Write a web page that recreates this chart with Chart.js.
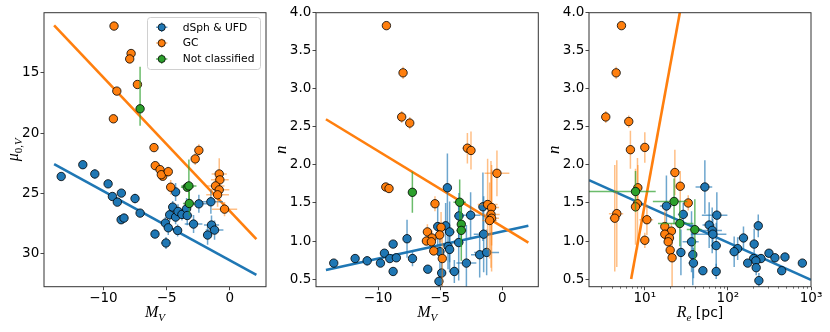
<!DOCTYPE html>
<html>
<head>
<meta charset="utf-8">
<title>Structural parameters of Milky Way satellites</title>
<script src="https://cdn.jsdelivr.net/npm/chart.js@4.4.1/dist/chart.umd.min.js"></script>
<style>
  body { margin: 0; background: #fff; width: 830px; height: 332px; overflow: hidden; position: relative; }
  canvas { position: absolute; top: 0; }
</style>
</head>
<body>
<canvas id="panelMu" style="left:0px" width="278" height="332"></canvas>
<canvas id="panelN" style="left:278px" width="272" height="332"></canvas>
<canvas id="panelRe" style="left:550px" width="280" height="332"></canvas>
<script>
// --- Data: rows are [x, y, xerr, yerr]; an error may be [minus, plus] ---
const seriesNames = ['dSph & UFD', 'GC', 'Not classified'];

// panel 1: M_V vs mu_0,V
const muDsph = [
  [-13.34, 23.6, 0.1, 0.2], [-11.63, 22.62, 0.1, 0.2], [-10.68, 23.39, 0.1, 0.4],
  [-9.63, 24.21, 0.1, 0.2], [-9.29, 25.26, 0.1, 0.2], [-8.58, 24.98, 0.1, 0.2],
  [-8.9, 25.73, 0.1, 0.3], [-7.5, 25.43, 0.2, 0.4], [-7.1, 26.64, 0.1, 0.3],
  [-8.6, 27.19, 0.1, 0.2], [-8.37, 27.05, 0.1, 0.2], [-5.92, 28.38, 0.1, 0.2],
  [-5.05, 29.12, 0.4, 0.5], [-5.1, 27.47, 0.3, 0.5], [-4.87, 27.86, 0.3, 0.6],
  [-4.76, 26.78, 0.3, 0.6], [-4.29, 24.88, 0.2, 0.75], [-4.52, 26.14, 0.3, 0.5],
  [-4.29, 26.97, 0.3, 0.6], [-4.1, 26.5, 0.4, 0.6], [-4.13, 28.08, 0.3, 0.5],
  [-3.79, 26.75, 0.4, 0.5], [-3.42, 26.28, 0.3, 0.9], [-3.37, 26.84, 0.4, 0.8],
  [-2.87, 27.55, 0.7, 0.75], [-2.45, 25.87, 0.7, 0.75], [-1.5, 25.7, 0.95, 1.0],
  [-1.45, 27.63, 0.6, 0.8], [-1.21, 28.05, 0.7, 0.8], [-1.76, 28.46, 0.3, 0.8]
];
const muGc = [
  [-9.16, 11.11, 0.05, 0.2], [-7.81, 13.39, 0.05, 0.2], [-7.92, 13.84, 0.05, 0.2],
  [-7.31, 15.96, 0.05, 0.2], [-8.94, 16.51, 0.05, 0.2], [-9.21, 18.81, 0.05, 0.2],
  [-6.0, 21.2, 0.05, 0.3], [-2.45, 21.43, 0.3, 0.5], [-2.74, 22.14, 0.3, 0.5],
  [-5.9, 22.7, 0.1, 0.3], [-5.52, 23.03, 0.1, 0.3], [-5.31, 23.58, 0.1, 0.3],
  [-5.42, 23.45, 0.1, 0.3], [-4.87, 23.2, 0.2, 0.4], [-4.68, 24.49, 0.2, 0.6],
  [-0.84, 23.39, 0.6, 1.3], [-0.79, 23.88, 0.7, 0.6], [-1.13, 24.38, 0.7, 0.8],
  [-0.84, 24.71, 0.8, 0.8], [-0.97, 25.12, 0.9, 1.0], [-0.42, 26.31, 1.0, 0.6]
];
const muNc = [
  [-7.1, 17.98, 0.05, [3.5, 1.4]], [-3.37, 24.49, 0.5, 0.3],
  [-3.24, 24.38, 0.6, [2.2, 1.5]], [-3.21, 25.84, 0.5, 1.0]
];
const muFitDsph = [[-13.9, 22.57], [2.1, 31.77]];
const muFitGc = [[-13.9, 11.05], [2.1, 28.8]];

// panel 2: M_V vs n
const mvNDsph = [
  [-13.57, 0.71, 0.1, 0.03], [-11.85, 0.77, 0.1, 0.03], [-10.88, 0.74, 0.1, 0.06],
  [-9.81, 0.71, 0.1, 0.03], [-9.49, 0.84, 0.1, 0.03], [-9.06, 0.77, 0.1, 0.03],
  [-8.79, 0.96, 0.1, 0.03], [-8.53, 0.78, 0.1, 0.03], [-8.79, 0.60, 0.1, 0.03],
  [-7.67, 1.03, 0.2, 0.25], [-7.23, 0.77, 0.1, 0.1], [-6.0, 0.63, 0.1, 0.05],
  [-5.2, 1.19, 0.3, 0.3], [-4.56, 1.2, 0.3, 0.3], [-4.42, 1.70, 0.2, 0.45],
  [-5.02, 0.86, 0.3, 0.25], [-4.88, 0.58, 0.3, 0.25], [-5.1, 0.47, 0.3, 0.15],
  [-4.37, 0.93, 0.3, 0.3], [-4.24, 0.89, 0.3, 0.3], [-4.24, 1.12, 0.4, 0.4],
  [-3.86, 0.60, 0.4, 0.15], [-3.51, 0.98, 0.4, 0.5], [-3.49, 1.33, 0.4, 0.3],
  [-2.55, 1.34, 0.8, 0.3], [-2.89, 0.71, 0.8, 0.5], [-1.82, 0.82, 0.7, 0.3],
  [-1.56, 1.45, 0.3, 0.45], [-1.5, 1.09, 0.8, 0.5], [-1.26, 0.85, 1.0, 0.3]
];
const mvNGc = [
  [-9.33, 3.83, 0.05, 0.05], [-7.99, 3.21, 0.05, 0.08], [-8.10, 2.63, 0.05, 0.08],
  [-7.45, 2.55, 0.05, 0.08], [-2.81, 2.22, 0.4, 0.2], [-2.52, 2.19, 0.3, 0.25],
  [-0.43, 1.89, 1.0, 0.3], [-9.38, 1.71, 0.05, 0.03], [-9.12, 1.69, 0.05, 0.03],
  [-5.42, 1.49, 0.1, 0.1], [-1.18, 1.48, 0.8, 0.6], [-0.86, 1.44, 0.6, 0.5],
  [-0.91, 1.35, 0.7, 0.7], [-0.86, 1.30, 0.6, 0.7], [-1.02, 1.27, 0.6, 0.5],
  [-4.93, 1.18, 0.1, 0.2], [-6.03, 1.12, 0.1, 0.1], [-5.04, 1.08, 0.1, 0.1],
  [-5.66, 1.04, 0.1, 0.1], [-6.11, 1.0, 0.1, 0.05], [-5.71, 0.99, 0.1, 0.05],
  [-5.52, 0.87, 0.1, 0.05], [-4.83, 0.77, 0.1, 0.4]
];
const mvNNc = [
  [-7.24, 1.64, 0.05, 0.27], [-3.43, 1.51, 0.5, 0.3],
  [-3.30, 1.22, 0.3, 0.3], [-3.30, 1.14, 0.4, 0.4]
];
const mvNFitDsph = [[-14.2, 0.62], [2.1, 1.2]];
const mvNFitGc = [[-14.2, 2.6], [2.1, 0.98]];

// panel 3: R_e [pc] vs n
const reNDsph = [
  [52.8, 1.71, 12, 0.35], [18.2, 1.46, 3, 0.4], [29.0, 1.35, 4, 0.15],
  [73.6, 1.34, 25, 0.3], [59.5, 1.21, 10, 0.3], [232, 1.20, 20, 0.15],
  [64.7, 1.14, 20, 0.3], [65.9, 1.09, 30, 0.2], [154, 1.04, 20, 0.15],
  [36.5, 0.99, 8, 0.4], [72.3, 0.94, 10, 0.3], [207, 0.96, 20, 0.2],
  [131, 0.90, 20, 0.15], [119, 0.86, 15, 0.2], [27.2, 0.85, 3, 0.3],
  [37.8, 0.82, 4, 0.4], [312, 0.84, 20, 0.05], [368, 0.78, 30, 0.05],
  [486, 0.79, 30, 0.05], [204, 0.77, 20, 0.05], [250, 0.77, 20, 0.05],
  [217, 0.74, 20, 0.05], [173, 0.71, 15, 0.05], [787, 0.71, 30, 0.05],
  [38.5, 0.71, 5, 0.2], [219, 0.65, 20, 0.1], [50.0, 0.61, 5, 0.05],
  [72.3, 0.60, 8, 0.1], [444, 0.61, 30, 0.05], [236, 0.48, 20, 0.1]
];
const reNGc = [
  [5.24, 3.83, 0.2, 0.05], [4.52, 3.21, 0.2, 0.08], [3.39, 2.63, 0.15, 0.08],
  [6.41, 2.57, 0.3, 0.08], [10.0, 2.23, 0.5, 0.2], [6.71, 2.20, 0.3, 0.25],
  [23.0, 1.90, 2.0, 0.3], [26.7, 1.72, 1.5, 0.2], [8.24, 1.70, 0.5, 0.3],
  [33.3, 1.50, 2.5, 0.1], [8.16, 1.49, 0.8, 0.6], [7.73, 1.45, 0.8, 0.5],
  [4.60, 1.36, 0.9, 0.7], [4.35, 1.30, 0.6, 0.7], [10.6, 1.28, 2.0, 0.2],
  [17.4, 1.19, 0.5, 0.2], [20.9, 1.13, 0.5, 0.1], [17.4, 1.09, 0.5, 0.1],
  [19.8, 1.04, 0.5, 0.1], [10.0, 1.01, 0.3, 0.1], [19.1, 0.99, 0.5, 0.05],
  [20.2, 0.88, 0.5, 0.05], [21.3, 0.78, 0.8, 0.4]
];
const reNNc = [
  [7.73, 1.65, 5.8, 0.27], [22.5, 1.52, 10, 0.3],
  [26.4, 1.23, 12, 0.3], [40.0, 1.15, 8, 0.4]
];
const reNFitDsph = [[2.13, 1.8], [1000, 0.49]];
const reNFitGc = [[6.85, 0.5], [28.5, 4.2]];

// --- Tick labels ---
const mvTicks = [-10, -5, 0];
const muTicks = [15, 20, 25, 30];
const nTicks = [0.5, 1.0, 1.5, 2.0, 2.5, 3.0, 3.5, 4.0];
const reTicks = [10, 100, 1000];
const reTickLabels = ['10\u00b9', '10\u00b2', '10\u00b3'];

// --- Styles ---
const colors = ['#1f77b4', '#ff7f0e', '#2ca02c'];
const errColors = ['rgba(31,119,180,0.65)', 'rgba(255,127,14,0.5)', 'rgba(44,160,44,0.7)'];
const serifI = s => `italic ${s}px "Liberation Serif"`;
const serif = s => `${s}px "Liberation Serif"`;
const sans = s => `${s}px "DejaVu Sans"`;

Chart.defaults.font.family = 'DejaVu Sans';

function loHi(e) { return Array.isArray(e) ? e : [e, e]; }

function buildDatasets(series, fits) {
  let sets = series.map((rows, i) => ({
    label: seriesNames[i],
    data: rows.map(r => ({x: r[0], y: r[1]})),
    err: rows.map(r => [r[2], r[3]]),
    errColor: errColors[i],
    backgroundColor: colors[i],
    borderColor: '#000',
    borderWidth: 0.8,
    pointRadius: 4.2,
    pointHoverRadius: 4.2,
    order: 2 - i
  }));
  fits.forEach((pts, i) => sets.push({
    data: pts.map(p => ({x: p[0], y: p[1]})),
    showLine: true,
    pointRadius: 0,
    borderColor: colors[i],
    borderWidth: 2.6,
    order: 6 - i,
    clip: 0
  }));
  return sets;
}

// --- Error bars, drawn just under each series' markers ---
const errorBars = {
  id: 'errorBars',
  beforeDatasetDraw(chart, args) {
    let ds = chart.data.datasets[args.index];
    if (!ds.err) return;
    let xs = chart.scales.x, ys = chart.scales.y, a = chart.chartArea, ctx = chart.ctx;
    ctx.save();
    ctx.beginPath();
    ctx.rect(a.left, a.top, a.right - a.left, a.bottom - a.top);
    ctx.clip();
    ctx.strokeStyle = ds.errColor;
    ctx.lineWidth = 1.5;
    ds.data.forEach((p, i) => {
      let [xl, xh] = loHi(ds.err[i][0]);
      let [yl, yh] = loHi(ds.err[i][1]);
      let x0 = p.x - xl;
      if (xs.type === 'logarithmic' && x0 <= xs.min) x0 = xs.min;
      let px = xs.getPixelForValue(p.x), py = ys.getPixelForValue(p.y);
      ctx.beginPath();
      ctx.moveTo(xs.getPixelForValue(x0), py);
      ctx.lineTo(xs.getPixelForValue(p.x + xh), py);
      ctx.moveTo(px, ys.getPixelForValue(p.y - yl));
      ctx.lineTo(px, ys.getPixelForValue(p.y + yh));
      ctx.stroke();
    });
    ctx.restore();
  }
};

function drawRich(ctx, parts, cx, base, rotated) {
  ctx.save();
  ctx.fillStyle = '#000';
  ctx.textBaseline = 'alphabetic';
  ctx.textAlign = 'left';
  let w = 0;
  parts.forEach(p => { ctx.font = p[1]; w += ctx.measureText(p[0]).width; });
  if (rotated) {
    ctx.translate(base, cx);
    ctx.rotate(-Math.PI / 2);
  } else {
    ctx.translate(cx, base);
  }
  let x = -w / 2;
  parts.forEach(p => {
    ctx.font = p[1];
    ctx.fillText(p[0], x, p[2]);
    x += ctx.measureText(p[0]).width;
  });
  ctx.restore();
}

// --- Frame, axis titles, log minor ticks, legend ---
const decor = {
  id: 'decor',
  afterDraw(chart, args, o) {
    let ctx = chart.ctx, a = chart.chartArea;
    ctx.save();
    ctx.strokeStyle = '#333';
    ctx.lineWidth = 1;
    ctx.strokeRect(a.left, a.top, a.right - a.left, a.bottom - a.top);
    if (o.minorLog) {
      let xs = chart.scales.x;
      ctx.lineWidth = 0.7;
      [1, 10, 100].forEach(d => {
        for (let m = 2; m <= 9; m++) {
          let v = m * d;
          if (v < xs.min || v > xs.max) continue;
          let px = Math.round(xs.getPixelForValue(v)) + 0.5;
          ctx.beginPath();
          ctx.moveTo(px, a.bottom);
          ctx.lineTo(px, a.bottom + 2);
          ctx.stroke();
        }
      });
    }
    ctx.restore();
    drawRich(ctx, o.xTitle, (a.left + a.right) / 2, 317, false);
    drawRich(ctx, o.yTitle, (a.top + a.bottom) / 2, o.yTitleX, true);
    if (o.legend) drawLegend(ctx);
  }
};

function drawLegend(ctx) {
  ctx.save();
  let bx = 147.5, by = 17.5, bw = 113, bh = 52;
  ctx.fillStyle = 'rgba(255,255,255,0.8)';
  ctx.strokeStyle = '#d0d0d0';
  ctx.lineWidth = 1;
  ctx.beginPath();
  ctx.roundRect(bx, by, bw, bh, 3);
  ctx.fill();
  ctx.stroke();
  let rows = [27.3, 43.1, 59];
  seriesNames.forEach((name, i) => {
    let mx = 161.7, my = rows[i];
    ctx.strokeStyle = errColors[i];
    ctx.lineWidth = 1.5;
    ctx.beginPath();
    ctx.moveTo(mx - 5.7, my); ctx.lineTo(mx + 5.7, my);
    ctx.moveTo(mx, my - 4.7); ctx.lineTo(mx, my + 4.7);
    ctx.stroke();
    ctx.beginPath();
    ctx.arc(mx, my, 3.6, 0, Math.PI * 2);
    ctx.fillStyle = colors[i];
    ctx.fill();
    ctx.strokeStyle = '#000';
    ctx.lineWidth = 0.8;
    ctx.stroke();
    ctx.fillStyle = '#000';
    ctx.font = sans(10.7);
    ctx.textBaseline = 'middle';
    ctx.fillText(name, 182.7, my + 0.5);
  });
  ctx.restore();
}

function axis(kind, opts) {
  let tickFont = {family: 'DejaVu Sans', size: 13.5};
  return Object.assign({
    ticks: {font: tickFont, color: '#000', padding: kind === 'x' ? 0 : 1.2, maxRotation: 0, autoSkip: false},
    grid: {drawOnChartArea: false, drawTicks: true, tickLength: 3.5, tickColor: '#333', tickWidth: 0.9},
    border: {display: false}
  }, opts);
}

function makePanel(id, cfg) {
  return new Chart(document.getElementById(id), {
    type: 'scatter',
    data: {datasets: buildDatasets(cfg.series, cfg.fits)},
    options: {
      responsive: false,
      animation: false,
      devicePixelRatio: 1,
      events: [],
      layout: {padding: {left: 0, right: cfg.padRight, top: 12.7, bottom: 0}},
      plugins: {legend: {display: false}, tooltip: {enabled: false},
        decor: {xTitle: cfg.xTitle, yTitle: cfg.yTitle, yTitleX: cfg.yTitleX, legend: cfg.legend, minorLog: cfg.minorLog}},
      scales: {x: cfg.x, y: cfg.y}
    },
    plugins: [errorBars, decor]
  });
}

const mvTitle = [['M', serifI(16), 0], ['V', serifI(11), 3.5]];
const nTitle = [['n', serifI(17), 0]];

function mvAxis(min, max) {
  return axis('x', {
    type: 'linear', min: min, max: max,
    afterBuildTicks: s => { s.ticks = mvTicks.map(v => ({value: v})); },
    afterFit: s => { s.height = 45.3; },
    ticks: Object.assign(axis('x').ticks, {callback: v => String(v).replace('-', '\u2212')})
  });
}

function nAxis(width) {
  return axis('y', {
    type: 'linear', min: 0.4, max: 4.0,
    afterBuildTicks: s => { s.ticks = nTicks.map(v => ({value: v})); },
    afterFit: s => { s.width = width; },
    ticks: Object.assign(axis('y').ticks, {callback: v => v.toFixed(1)})
  });
}

// --- Panels ---
makePanel('panelMu', {
  series: [muDsph, muGc, muNc],
  fits: [muFitDsph, muFitGc],
  padRight: 12,
  legend: true,
  xTitle: mvTitle,
  yTitle: [['\u03bc', serifI(16), 0], ['0,', serif(11), 3.5], ['V', serifI(11), 3.5]],
  yTitleX: 18,
  x: mvAxis(-14.7, 2.86),
  y: axis('y', {
    type: 'linear', min: 10.0, max: 32.75, reverse: true,
    afterBuildTicks: s => { s.ticks = muTicks.map(v => ({value: v})); },
    afterFit: s => { s.width = 44; },
    ticks: Object.assign(axis('y').ticks, {callback: v => String(v)})
  })
});

makePanel('panelN', {
  series: [mvNDsph, mvNGc, mvNNc],
  fits: [mvNFitDsph, mvNFitGc],
  padRight: 11.7,
  xTitle: mvTitle,
  yTitle: nTitle,
  yTitleX: 8,
  x: mvAxis(-15.0, 2.9),
  y: nAxis(38)
});

makePanel('panelRe', {
  series: [reNDsph, reNGc, reNNc],
  fits: [reNFitDsph, reNFitGc],
  padRight: 19,
  minorLog: true,
  xTitle: [['R', serifI(16), 0], ['e', serifI(11), 3.5], [' [pc]', sans(14), 0]],
  yTitle: nTitle,
  yTitleX: 9,
  x: axis('x', {
    type: 'logarithmic', min: 2.13, max: 1000,
    afterBuildTicks: s => { s.ticks = reTicks.map(v => ({value: v})); },
    afterFit: s => { s.height = 45.3; },
    ticks: Object.assign(axis('x').ticks, {callback: v => reTickLabels[reTicks.indexOf(v)] || ''})
  }),
  y: nAxis(39)
});
</script>
</body>
</html>
